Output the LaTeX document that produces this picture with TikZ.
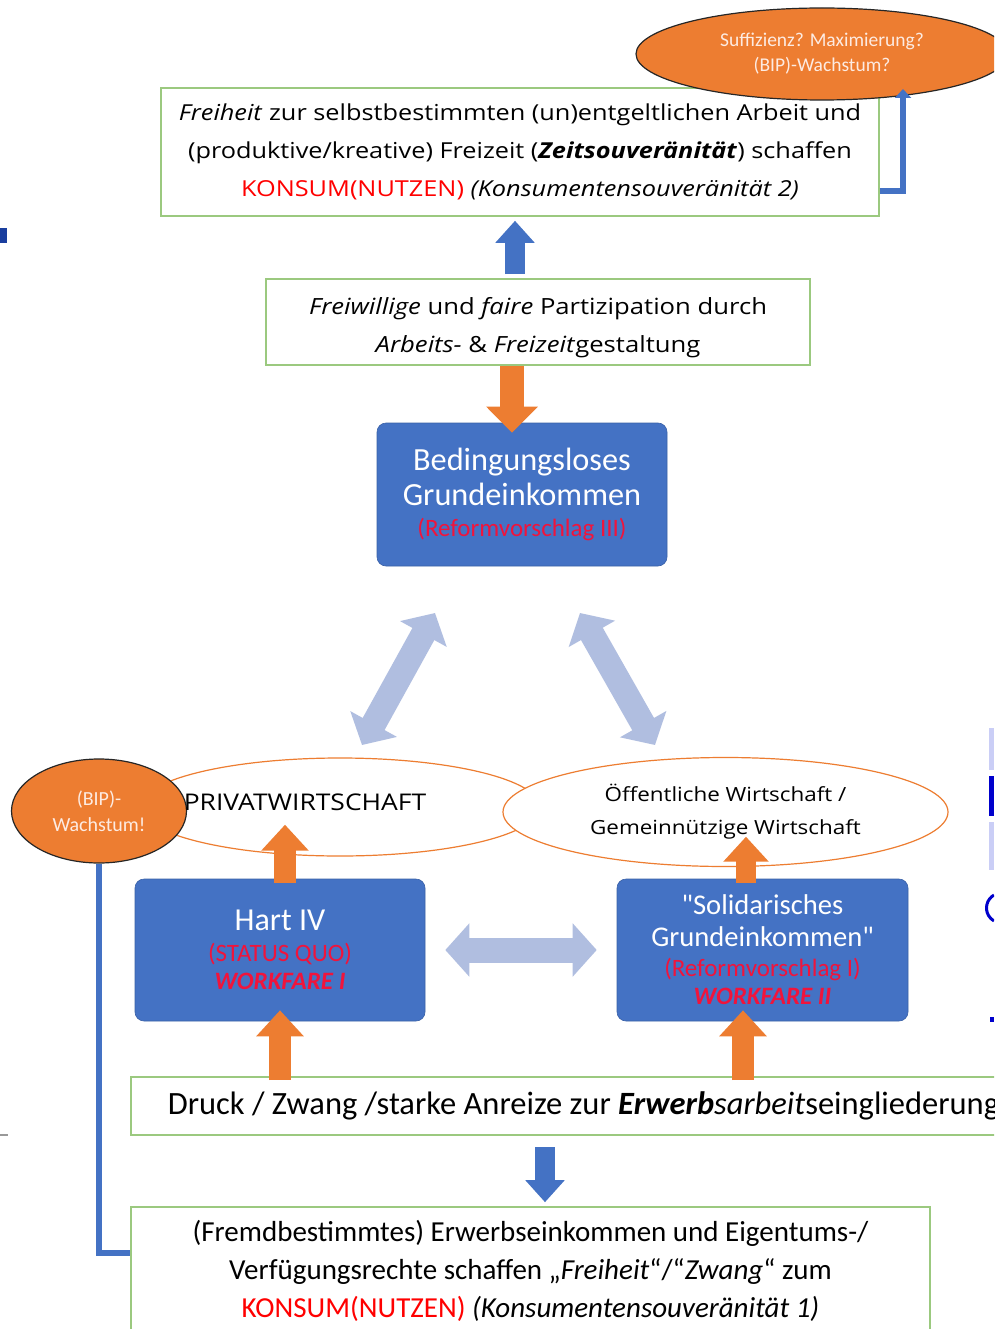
\documentclass[tikz,border=0pt]{standalone}
\usepackage{fontspec}
\setmainfont{Carlito}
\newfontfamily\seg[FakeStretch=1.15]{Open Sans}
\usetikzlibrary{shapes.geometric,arrows.meta,calc}
\definecolor{mblue}{HTML}{4472C4}
\definecolor{morange}{HTML}{ED7D31}
\definecolor{mgreen}{HTML}{9BC97F}
\definecolor{lblue}{HTML}{B0BEE0}
\definecolor{mred}{HTML}{FF0000}
\definecolor{bred}{HTML}{F0143C}
\definecolor{etext}{HTML}{FDEBE2}
\definecolor{dkblue}{HTML}{1A3E9E}
\newcommand{\sq}{{\addfontfeature{Ligatures=TeXOff}"}}
\begin{document}
\begin{tikzpicture}[x=1pt,y=-1pt,
  greenbox/.style={draw=mgreen, line width=1.6pt, fill=white, inner sep=0pt, align=center},
  bluebox/.style={fill=mblue, draw=mblue!85!black, line width=0.6pt, rounded corners=9pt, inner sep=0pt, align=center, text=white},
  oell/.style={ellipse, draw=black!85, line width=1.2pt, fill=morange, inner sep=0pt, align=center, text=etext},
  well/.style={ellipse, draw=morange, line width=1.2pt, fill=white, inner sep=0pt, align=center},
  oarrow/.style={draw=morange, line width=22pt, -{Triangle[width=46pt,length=26pt]}},
  barrow/.style={draw=mblue, line width=20pt, -{Triangle[width=38pt,length=22pt]}},
  larrow/.style={draw=lblue, line width=25pt, {Triangle[width=52pt,length=24pt]}-{Triangle[width=52pt,length=24pt]}},
  bline/.style={draw=mblue, line width=5.5pt}
]
\useasboundingbox (0,0) rectangle (994,1329);
\clip (0,0) rectangle (994,1329);
\fill[white] (0,0) rectangle (994,1329);

% stray fragments at the edges
\fill[dkblue] (0,228) rectangle (7,243);
\fill[black!40] (0,1134) rectangle (8,1135.5);
\fill[lblue!70!blue!40] (989,728) rectangle (994,770);
\fill[blue!80!black] (989,776) rectangle (994,816);
\fill[lblue!70!blue!40] (989,822) rectangle (994,870);
\draw[blue!80!black, line width=3pt] (994,895) arc[start angle=120, end angle=240, radius=15pt];
\fill[blue!80!black] (990,1017) rectangle (994,1022);

% top box
\node[greenbox, minimum width=718pt, minimum height=128pt, font=\seg\fontsize{22}{38}\selectfont] (top) at (520,152)
 {\textit{Freiheit} zur selbstbestimmten (un)entgeltlichen Arbeit und\\
  (produktive/kreative) Freizeit (\textbf{\textit{Zeitsouveränität}}) schaffen\\
  \textcolor{mred}{KONSUM(NUTZEN)} \textit{(Konsumentensouveränität 2)}};

% top ellipse
\node[oell, minimum width=372pt, minimum height=92pt, font=\fontsize{19.5}{25}\selectfont] (sufz) at (822,54)
 {Suffizienz? Maximierung?\\(BIP)-Wachstum?};
\coordinate (sufzin) at (903,89);
\draw[bline, -{Triangle[width=16pt,length=9pt]}] ($(top.south east)+(0,-26)$) -| (sufzin);

% second box
\node[greenbox, minimum width=544pt, minimum height=86pt, font=\seg\fontsize{22.3}{38}\selectfont] (mid) at (538,322)
 {\rule{0pt}{28pt}\textit{Freiwillige} und \textit{faire} Partizipation durch\\
  \textit{Arbeits-} \& \textit{Freizeit}gestaltung};
\draw[barrow] ($(mid.north)+(-23,-4)$) -- ($(top.south)+(-5,4)$);

% BGE box
\node[bluebox, minimum width=290pt, minimum height=143pt, font=\fontsize{32.3}{35}\selectfont] (bge) at (522,494.5)
 {Bedingungsloses\\Grundeinkommen\\[-4pt]{\fontsize{25}{25}\selectfont\color{bred}(Reformvorschlag III)}};
\draw[oarrow, line width=24pt, -{Triangle[width=50pt,length=26pt]}] ($(mid.south)+(-26,0)$) -- ($(bge.north)+(-10,10)$);

% ellipses
\node[well, minimum width=400pt, minimum height=98pt] (priv) at (340,807) {};
\node[well, minimum width=445pt, minimum height=109pt, font=\seg\fontsize{19.5}{33}\selectfont] (oeff) at (725.5,812)
 {Öffentliche Wirtschaft /\\Gemeinnützige Wirtschaft};
\node[oell, minimum width=175pt, minimum height=104pt, font=\fontsize{20}{26}\selectfont] (bip) at (99,811)
 {(BIP)-\\Wachstum!};
\node[font=\seg\fontsize{23}{26}\selectfont, inner sep=0pt] (privtext) at (305,802) {PRIVATWIRTSCHAFT};

% diagonal double arrows
\coordinate (dl1) at (362,745);
\coordinate (dl2) at (435,613);
\coordinate (dr1) at (580,613);
\coordinate (dr2) at (655,745);
\draw[larrow] (dl1) -- (dl2);
\draw[larrow] (dr1) -- (dr2);

% Hart IV and Solidarisches boxes
\node[bluebox, minimum width=290pt, minimum height=142pt, font=\fontsize{32}{31}\selectfont] (hart) at (280,950)
 {Hart IV\\[0pt]{\fontsize{25}{25}\selectfont\color{bred}(STATUS QUO)}\\[-3pt]{\fontsize{25}{25}\selectfont\color{bred}\bfseries\itshape WORKFARE I}};
\node[bluebox, minimum width=291pt, minimum height=142pt, font=\fontsize{28.6}{32}\selectfont] (solid) at (762.5,950)
 {\sq Solidarisches\\Grundeinkommen\sq\\[-2pt]{\fontsize{25}{25}\selectfont\color{bred}(Reformvorschlag I)}\\[-4pt]{\fontsize{25}{25}\selectfont\color{bred}\bfseries\itshape WORKFARE II}};
\draw[larrow] ($(hart.east)+(20,0)$) -- ($(solid.west)+(-20,0)$);

\draw[oarrow] ($(hart.north)+(5,4)$) -- ($(hart.north)+(5,-54)$);
\draw[oarrow, line width=20pt, -{Triangle[width=44pt,length=25pt]}] ($(solid.north)+(-16.5,4)$) -- ($(solid.north)+(-16.5,-42)$);

% Druck box
\node[greenbox, anchor=west, text width=900pt, inner xsep=37pt, minimum height=58pt, align=flush left, font=\fontsize{32.5}{34}\selectfont] (druck) at (130,1106)
 {Druck / Zwang /starke Anreize zur \textbf{\textit{Erwerb}}\textit{sarbeit}seingliederung};
\draw[oarrow] ($(hart.south|-druck.north)+(0,4)$) -- ($(hart.south)+(0,-11)$);
\draw[oarrow] ($(solid.south|-druck.north)+(-19.5,4)$) -- ($(solid.south)+(-19.5,-11)$);

% bottom box
\node[greenbox, minimum width=799pt, minimum height=128pt, font=\fontsize{29}{38}\selectfont] (bottom) at (530.5,1271)
 {(Fremdbestimmtes) Erwerbseinkommen und Eigentums-/\\
  Verfügungsrechte schaffen „\textit{Freiheit}“/“\textit{Zwang}“ zum\\
  \textcolor{mred}{KONSUM(NUTZEN)} \textit{(Konsumentensouveränität 1)}};
\draw[barrow] ($(bottom.north)+(14.5,-59)$) -- ($(bottom.north)+(14.5,-4)$);

% left connector
\draw[bline] (bip.south) |- ($(bottom.west)+(0,-18)$);
\end{tikzpicture}
\end{document}
